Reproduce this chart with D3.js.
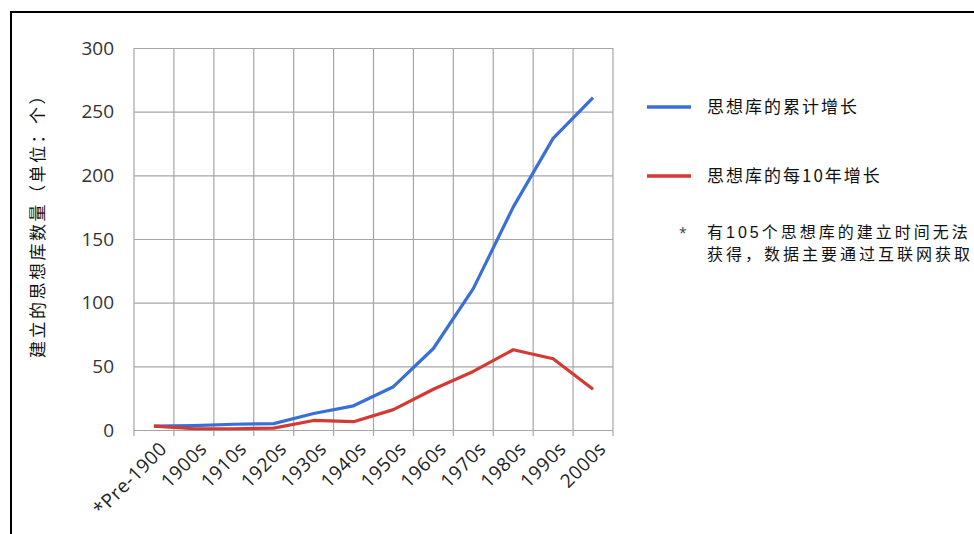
<!DOCTYPE html>
<html>
<head>
<meta charset="utf-8">
<script src="https://cdn.jsdelivr.net/npm/d3@7"></script>
<style>
  body { margin: 0; background: #fff; }
  svg { display: block; }
</style>
</head>
<body>
<svg id="chart"></svg>
<script>
// data
const decades = ['*Pre-1900', '1900s', '1910s', '1920s', '1930s', '1940s', '1950s', '1960s', '1970s', '1980s', '1990s', '2000s'];
const cumulative = [3, 3.5, 4.5, 5, 13, 19, 34, 64, 111, 175, 229, 261];
const perDecade = [3, 1, 1, 1.5, 7.5, 6.5, 16, 32, 46, 63, 56, 32];
const yTicks = [0, 50, 100, 150, 200, 250, 300];

const yTitle = '建立的思想库数量（单位：个）';
const legendCum = '思想库的累计增长';
const legendDec = '思想库的每10年增长';
const noteLines = ['有105个思想库的建立时间无法', '获得，数据主要通过互联网获取'];

const W = 974, H = 534;
const plot = { left: 134, right: 613, top: 48, bottom: 430 };

const svg = d3.select('#chart')
    .attr('width', W)
    .attr('height', H);

// frame
svg.append('path')
    .attr('d', `M11,${H + 5} L11,12 L${W + 5},12`)
    .attr('fill', 'none')
    .attr('stroke', '#000')
    .attr('stroke-width', 2);

const xBand = d3.scaleBand()
    .domain(decades)
    .range([plot.left, plot.right]);

const yScale = d3.scaleLinear()
    .domain([0, 300])
    .range([plot.bottom, plot.top]);

const gridColor = '#a6a6a6';

// horizontal grid + y labels
const yAxis = d3.axisLeft(yScale)
    .tickValues(yTicks)
    .tickSize(-(plot.right - plot.left))
    .tickPadding(20);

const gy = svg.append('g')
    .attr('transform', `translate(${plot.left},0)`)
    .call(yAxis);
gy.select('.domain').remove();
gy.selectAll('.tick line').attr('stroke', gridColor).attr('stroke-width', 1.2);
gy.selectAll('.tick text')
    .attr('fill', '#333')
    .style('font-family', '"Open Sans", sans-serif')
    .style('font-size', '19px');

// vertical grid at category boundaries
const bounds = decades.map(d => xBand(d)).concat([plot.right]);
svg.append('g').selectAll('line')
    .data(bounds)
    .join('line')
    .attr('x1', d => d).attr('x2', d => d)
    .attr('y1', plot.top).attr('y2', plot.bottom + 6)
    .attr('stroke', gridColor)
    .attr('stroke-width', 1.2);

// x labels, rotated
svg.append('g').selectAll('text')
    .data(decades)
    .join('text')
    .attr('transform', d => `translate(${xBand(d) + xBand.bandwidth() / 2 + 4},${plot.bottom + 10}) rotate(-45)`)
    .attr('text-anchor', 'end')
    .attr('dy', '0.75em')
    .attr('fill', '#222')
    .style('font-family', '"Open Sans", sans-serif')
    .style('font-size', '19px')
    .style('letter-spacing', '0.5px')
    .text(d => d);

const line = d3.line()
    .x((d, i) => xBand(decades[i]) + xBand.bandwidth() / 2)
    .y(d => yScale(d));

const blue = '#3a6fd6';
const red = '#d33a33';

svg.append('path')
    .datum(cumulative)
    .attr('d', line)
    .attr('fill', 'none')
    .attr('stroke', blue)
    .attr('stroke-width', 3.2)
    .attr('stroke-linejoin', 'round');

svg.append('path')
    .datum(perDecade)
    .attr('d', line)
    .attr('fill', 'none')
    .attr('stroke', red)
    .attr('stroke-width', 3.2)
    .attr('stroke-linejoin', 'round');

// y title
svg.append('text')
    .attr('transform', `translate(44,${(88 + 355) / 2}) rotate(-90)`)
    .attr('text-anchor', 'middle')
    .attr('fill', '#111')
    .style('font-family', '"Noto Sans CJK SC", sans-serif')
    .style('font-size', '17px')
    .style('letter-spacing', '2.5px')
    .text(yTitle);

// legend
const cjk = '"Noto Sans CJK SC", sans-serif';
const legend = svg.append('g');
[[legendCum, blue, 107], [legendDec, red, 176]].forEach(([label, color, y]) => {
    legend.append('line')
        .attr('x1', 647).attr('x2', 691)
        .attr('y1', y).attr('y2', y)
        .attr('stroke', color)
        .attr('stroke-width', 3.5);
    legend.append('text')
        .attr('x', 707).attr('y', y + 6)
        .attr('fill', '#111')
        .style('font-family', cjk)
        .style('font-size', '17px')
        .style('letter-spacing', '2px')
        .text(label);
});

legend.append('text')
    .attr('x', 679).attr('y', 238)
    .attr('fill', '#444')
    .style('font-family', '"Open Sans", sans-serif')
    .style('font-size', '14px')
    .text('*');

// two-line note; latin primary font keeps the line boxes short
noteLines.forEach((t, i) => {
    legend.append('text')
        .attr('x', 707).attr('y', 238 + i * 22)
        .attr('fill', '#111')
        .style('font-family', '"Liberation Sans", "Noto Sans CJK SC", sans-serif')
        .style('font-size', '16px')
        .style('letter-spacing', '3px')
        .text(t);
});
</script>
</body>
</html>
